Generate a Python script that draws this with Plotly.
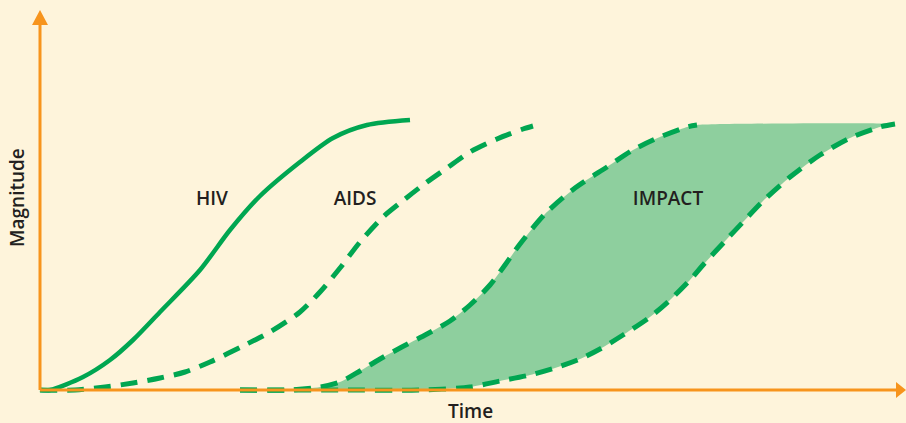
import plotly.graph_objects as go

# curve points, time vs magnitude (arbitrary units)
hiv_t = [0, 10, 43, 70, 93, 120, 160, 190, 220, 260, 293, 327, 370]
hiv_m = [0, 0, 13, 30, 50, 78, 120, 160, 194, 228, 252, 265, 270]

aids_t = [0, 35, 65, 93, 120, 145, 170, 205, 230, 260, 280, 300, 320, 343, 360,
          383, 407, 430, 457, 483, 493]
aids_m = [0, 0, 3, 7, 12, 18, 28, 45, 58, 78, 98, 122, 148, 173, 187,
          205, 222, 238, 251, 261, 264]

impact_hi_t = [200, 250, 280, 300, 320, 340, 360, 387, 410, 430, 450, 465, 480,
               505, 535, 567, 593, 620, 647, 657]
impact_hi_m = [0, 0, 3, 8, 19, 31, 42, 56, 69, 85, 105, 125, 146,
               176, 202, 223, 240, 253, 263, 265]

impact_lo_t = [200, 300, 380, 430, 460, 490, 515, 540, 560, 583, 610, 630, 650,
               663, 687, 703, 723, 750, 780, 810, 840, 855]
impact_lo_m = [0, 0, 0, 3, 9, 15, 22, 31, 41, 55, 73, 90, 110,
               125, 151, 168, 189, 213, 235, 252, 263, 266]

labels = ["HIV", "AIDS", "IMPACT"]
label_t = [172, 315, 628]
label_m = [190, 190, 190]

GREEN = "#00a651"
FILL = "#8ecf9e"
ORANGE = "#f7941d"
BG = "#fef4db"
TEXT = "#231f20"
DASH = "17px,10px"
FONT = "Open Sans"

fig = go.Figure()

# filled band: upper curve, flat top, then lower curve reversed
band_t = impact_hi_t + impact_lo_t[::-1]
band_m = impact_hi_m + impact_lo_m[::-1]
fig.add_trace(go.Scatter(x=band_t, y=band_m, mode="lines", fill="toself",
                         line_shape="spline", fillcolor=FILL,
                         line=dict(width=0, smoothing=0.6), hoverinfo="skip"))

for t, m in [(impact_hi_t, impact_hi_m), (impact_lo_t, impact_lo_m), (aids_t, aids_m)]:
    fig.add_trace(go.Scatter(x=t, y=m, mode="lines", line_shape="spline",
                             line=dict(color=GREEN, width=5, dash=DASH, smoothing=0.8)))
fig.add_trace(go.Scatter(x=hiv_t, y=hiv_m, mode="lines", line_shape="spline",
                         line=dict(color=GREEN, width=4.5, smoothing=0.8)))

fig.add_trace(go.Scatter(x=label_t, y=label_m, mode="text", text=labels,
                         textfont=dict(family=FONT, size=19, color=TEXT, weight=600)))

# axes with arrow heads
fig.add_shape(type="line", x0=0, y0=0, x1=858, y1=0, line=dict(color=ORANGE, width=3))
fig.add_shape(type="line", x0=0, y0=0, x1=0, y1=367, line=dict(color=ORANGE, width=3))
fig.add_shape(type="path", path="M 856 8 L 866 0 L 856 -8 Z",
              fillcolor=ORANGE, line=dict(width=0))
fig.add_shape(type="path", path="M -8 365 L 0 380 L 8 365 Z",
              fillcolor=ORANGE, line=dict(width=0))

fig.add_annotation(x=430, y=-21, text="Time", showarrow=False,
                   font=dict(family=FONT, size=19, color=TEXT, weight=600))
fig.add_annotation(x=-23, y=192, text="Magnitude", showarrow=False, textangle=-90,
                   font=dict(family=FONT, size=19, color=TEXT, weight=600))

fig.update_layout(
    width=906, height=423,
    margin=dict(l=0, r=0, t=0, b=0),
    paper_bgcolor=BG, plot_bgcolor=BG,
    showlegend=False,
    xaxis=dict(range=[-40, 866], visible=False, fixedrange=True),
    yaxis=dict(range=[-33, 390], visible=False, fixedrange=True),
)

fig.write_html("out.html", config={"displayModeBar": False},
               post_script="document.body.style.margin='0';")
